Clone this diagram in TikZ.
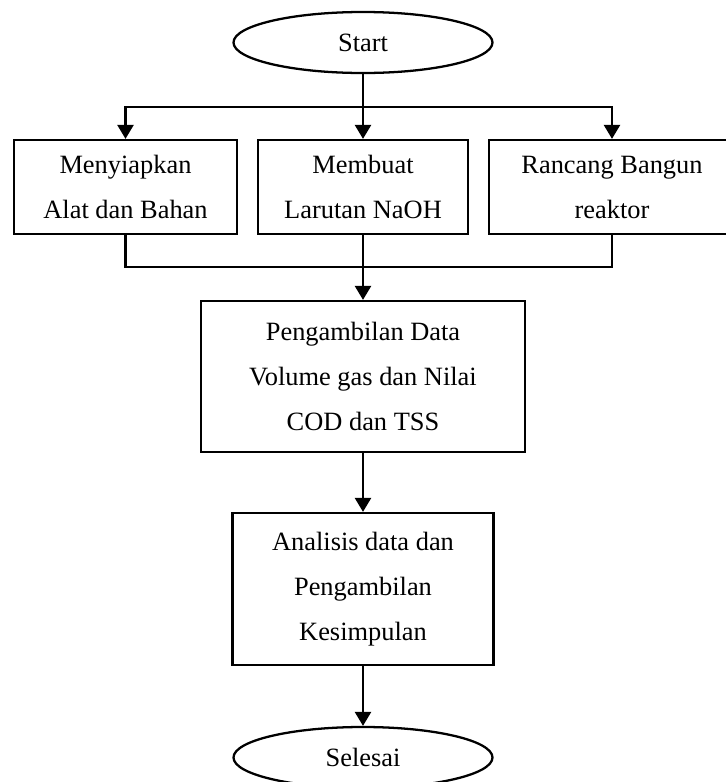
\documentclass[tikz,border=0pt]{standalone}
\usepackage{fontspec}
\setmainfont{Liberation Serif}
\usetikzlibrary{shapes.geometric,arrows.meta}

\tikzset{
	flowbox/.style={draw, line width=0.04cm, rectangle, align=center, inner sep=0pt, font=\fontsize{13.2}{22.5}\selectfont},
	terminal/.style={draw, line width=0.04cm, ellipse, inner sep=0pt, minimum width=129.5pt, minimum height=30.5pt, font=\fontsize{13.2}{15}\selectfont},
	flowline/.style={line width=0.045cm},
	flowarrow/.style={flowline, -{Triangle[width=8pt,length=7pt]}}
}

\begin{document}
\begin{tikzpicture}[x=0.5pt,y=-0.5pt]
	\useasboundingbox (0,0) rectangle (725,782);
	\node[terminal] (start) at (363,42.5) {Start};
	\node[flowbox, minimum width=111.5pt, minimum height=47pt] (alat) at (125.5,187) {Menyiapkan\\Alat dan Bahan};
	\node[flowbox, minimum width=105pt, minimum height=47pt] (larutan) at (363,187) {Membuat\\Larutan NaOH};
	\node[flowbox, minimum width=123pt, minimum height=47pt] (reaktor) at (612,187) {Rancang Bangun\\reaktor};
	\node[flowbox, minimum width=162pt, minimum height=75.5pt] (data) at (363,376.5) {Pengambilan Data\\Volume gas dan Nilai\\COD dan TSS};
	\node[flowbox, minimum width=130.5pt, minimum height=76pt] (analisis) at (363,589) {Analisis data dan\\Pengambilan\\Kesimpulan};
	\node[terminal] (selesai) at (363,757.5) {Selesai};
	\coordinate (fork) at (363,107);
	\coordinate (join) at (363,267);
	\draw[flowarrow] (start) -- (larutan);
		\draw[flowarrow] (fork) -| (alat.north);
		\draw[flowarrow] (fork) -| (reaktor.north);
	\draw[flowline] (alat.south) |- (join) -| (reaktor.south);
		\draw[flowline] (larutan.south) -- (join);
	\draw[flowarrow] (join) -- (data.north);
	\draw[flowarrow] (data) -- (analisis);
	\draw[flowarrow] (analisis) -- (selesai);
\end{tikzpicture}
\end{document}
